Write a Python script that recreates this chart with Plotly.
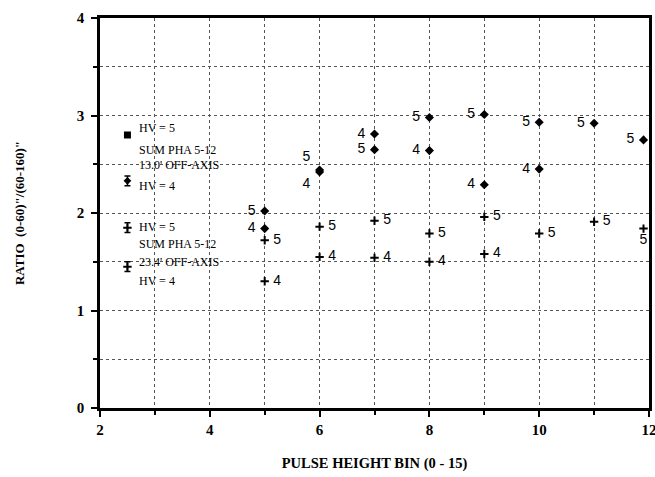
import plotly.graph_objects as go

# 13.0' off-axis (diamonds)
d_x5 = [5, 6, 7, 8, 9, 10, 11, 11.9]
d_y5 = [2.02, 2.44, 2.65, 2.98, 3.01, 2.93, 2.92, 2.75]
d_x4 = [5, 6, 7, 8, 9, 10]
d_y4 = [1.84, 2.42, 2.81, 2.64, 2.29, 2.45]

# 23.4' off-axis (crosses)
p_x5 = [5, 6, 7, 8, 9, 10, 11, 11.9]
p_y5 = [1.72, 1.86, 1.92, 1.79, 1.96, 1.79, 1.91, 1.84]
p_x4 = [5, 6, 7, 8, 9]
p_y4 = [1.30, 1.55, 1.54, 1.50, 1.58]

# key symbols
key_x = [2.5, 2.5, 2.5, 2.5]
key_y = [2.80, 2.33, 1.85, 1.45]
key_text = [
    (2.68, 2.87, "HV = 5"),
    (2.68, 2.65, "SUM PHA 5-12"),
    (2.68, 2.49, "13.0' OFF-AXIS"),
    (2.68, 2.28, "HV = 4"),
    (2.68, 1.86, "HV = 5"),
    (2.68, 1.68, "SUM PHA 5-12"),
    (2.68, 1.50, "23.4' OFF-AXIS"),
    (2.68, 1.30, "HV = 4"),
]

lab_font = dict(family="Liberation Sans", size=14, color="black")
serif = "Liberation Serif"
NB = "\u00a0"

fig = go.Figure()

def pos_list(xs, default, special):
    return [special.get(x, default) for x in xs]

fig.add_trace(go.Scatter(
    x=d_x5, y=d_y5, mode="markers+text", text=["5" + NB] * len(d_x5),
    textposition=pos_list(d_x5, "middle left", {6: "top left"}),
    marker=dict(symbol="diamond", size=7, color="black"),
    textfont=lab_font, showlegend=False, cliponaxis=False))
fig.add_trace(go.Scatter(
    x=d_x4, y=d_y4, mode="markers+text", text=["4" + NB] * len(d_x4),
    textposition=pos_list(d_x4, "middle left", {6: "bottom left"}),
    marker=dict(symbol="diamond", size=7, color="black"),
    textfont=lab_font, showlegend=False, cliponaxis=False))
fig.add_trace(go.Scatter(
    x=p_x5, y=p_y5, mode="markers+text",
    text=[("5" if x == 11.9 else NB + "5") for x in p_x5],
    textposition=pos_list(p_x5, "middle right", {11.9: "bottom center"}),
    marker=dict(symbol="cross-thin", size=6, color="black",
                line=dict(width=2, color="black")),
    textfont=lab_font, showlegend=False, cliponaxis=False))
fig.add_trace(go.Scatter(
    x=p_x4, y=p_y4, mode="markers+text", text=[NB + "4"] * len(p_x4),
    textposition="middle right",
    marker=dict(symbol="cross-thin", size=6, color="black",
                line=dict(width=2, color="black")),
    textfont=lab_font, showlegend=False, cliponaxis=False))

# key glyphs
fig.add_trace(go.Scatter(
    x=key_x[:1], y=key_y[:1], mode="markers",
    marker=dict(symbol="square", size=7, color="black"),
    showlegend=False))
fig.add_trace(go.Scatter(
    x=key_x[1:2], y=key_y[1:2], mode="markers",
    marker=dict(symbol="diamond", size=6, color="black"),
    error_y=dict(type="constant", value=0.05, width=3, color="black", thickness=1.5),
    showlegend=False))
fig.add_trace(go.Scatter(
    x=key_x[2:], y=key_y[2:], mode="markers",
    marker=dict(symbol="cross-thin", size=6, color="black",
                line=dict(width=2, color="black")),
    error_y=dict(type="constant", value=0.05, width=3, color="black", thickness=1.5),
    showlegend=False))

for (x, y, t) in key_text:
    fig.add_annotation(x=x, y=y, text=t, showarrow=False, xanchor="left",
                       yanchor="middle",
                       font=dict(family=serif, size=12, color="black"))

fig.update_layout(
    width=655, height=477, autosize=False,
    margin=dict(l=100, r=6, t=18, b=69, autoexpand=False),
    plot_bgcolor="white", paper_bgcolor="white",
    xaxis=dict(
        range=[2, 12], tickvals=[2, 4, 6, 8, 10, 12], automargin=False,
        ticklabeloverflow="allow",
        showline=True, linewidth=2.5, linecolor="black", mirror=True,
        ticks="outside", ticklen=6, tickwidth=2, tickcolor="black",
        tickfont=dict(family=serif, size=15, color="black", weight="bold"),
        showgrid=True, gridcolor="#555555", griddash="dot", gridwidth=1,
        minor=dict(dtick=1, showgrid=True, gridcolor="#555555", griddash="dot",
                   ticks="outside", ticklen=4, tickcolor="black"),
        zeroline=False,
        title=dict(text="PULSE HEIGHT BIN (0 - 15)", standoff=22,
                   font=dict(family=serif, size=14.5, color="black", weight="bold")),
    ),
    yaxis=dict(
        range=[0, 4], tickvals=[0, 1, 2, 3, 4], automargin=False,
        ticklabeloverflow="allow",
        showline=True, linewidth=2.5, linecolor="black", mirror=True,
        ticks="outside", ticklen=6, tickwidth=2, tickcolor="black",
        ticklabelstandoff=4,
        tickfont=dict(family=serif, size=15, color="black", weight="bold"),
        showgrid=True, gridcolor="#555555", griddash="dot", gridwidth=1,
        minor=dict(dtick=0.5, showgrid=True, gridcolor="#555555", griddash="dot",
                   ticks="outside", ticklen=4, tickcolor="black"),
        zeroline=False,
        title=dict(text="RATIO  (0-60)\"/(60-160)\"", standoff=50,
                   font=dict(family=serif, size=13, color="black", weight="bold")),
    ),
)

fig.write_html("out.html",
               config=dict(responsive=False, displayModeBar=False),
               post_script="document.body.style.margin='0';document.body.style.padding='0';"
                           "document.body.style.overflow='hidden';"
                           "document.documentElement.style.overflow='hidden';")
